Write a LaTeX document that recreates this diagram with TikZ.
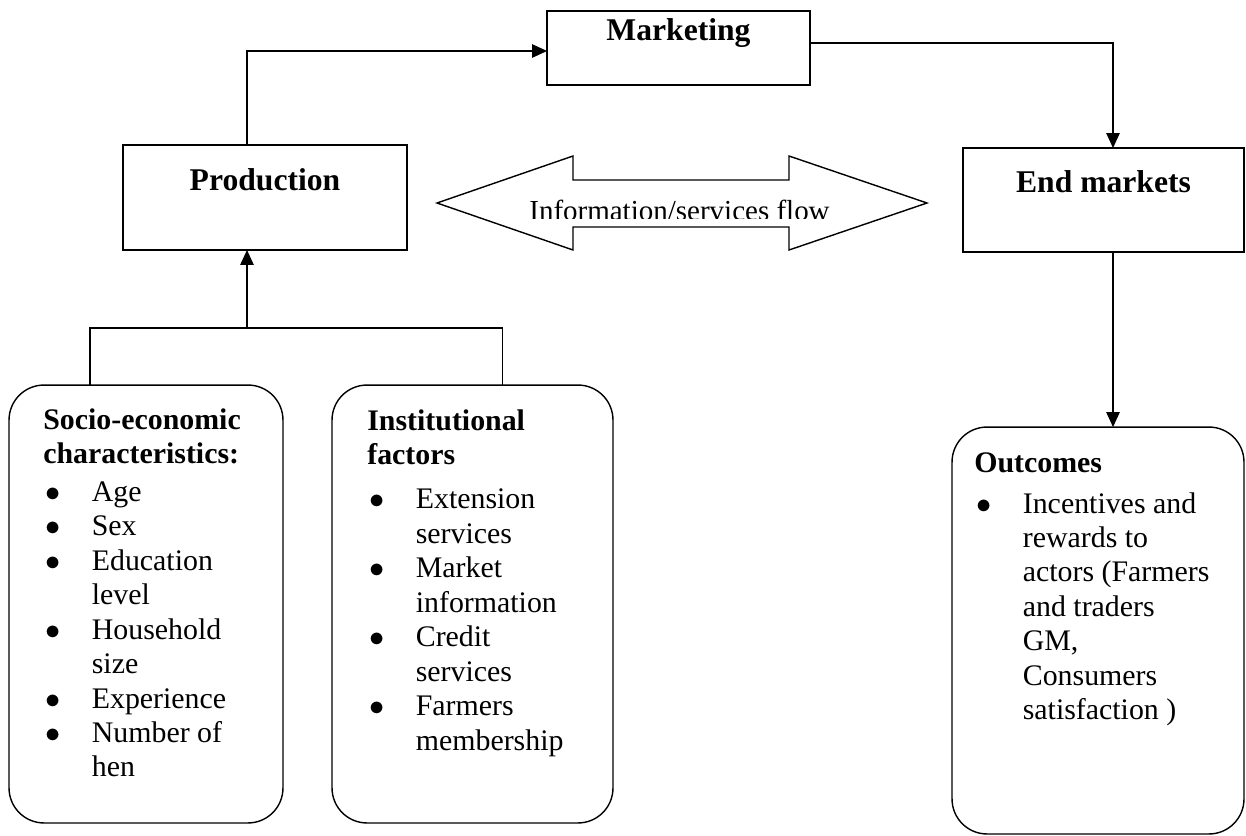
\documentclass[tikz,border=0pt]{standalone}
\usepackage{fontspec}
\setmainfont{Liberation Serif}
\usetikzlibrary{positioning,arrows.meta}

\newcommand{\bitem}{\makebox[0.97cm][l]{\hspace{0.05cm}$\bullet$}}
\newcommand{\bcont}{\hspace*{0.97cm}}

\begin{document}
\begin{tikzpicture}[x=0.02cm, y=-0.02cm,
  every node/.style={font=\fontsize{17}{19.6}\selectfont},
  chainbox/.style={draw, line width=0.8pt, outer sep=0pt, inner sep=0pt, align=center, font=\fontsize{18}{21}\selectfont\bfseries},
  factorbox/.style={draw, line width=0.8pt, rounded corners=0.7cm, outer sep=0pt, inner sep=0pt},
  listtext/.style={anchor=north west, inner sep=0pt, align=left},
  link/.style={line width=0.7pt},
  flowarrow/.style={link, -{Triangle[length=0.3cm, width=0.27cm]}}]
  \useasboundingbox (0,0) rectangle (1246,835);

  % value chain stages
  \node[chainbox, minimum width=5.26cm, minimum height=1.48cm] (mkt) at (678.5,48) {Marketing\\\mbox{}};
  \node[chainbox, minimum width=5.68cm, minimum height=2.1cm] (prod) at (265,197.5) {Production\\\mbox{}};
  \node[chainbox, minimum width=5.62cm, minimum height=2.08cm] (endm) at (1103.5,200) {End markets\\\mbox{}};

  % factors and outcomes
  \node[factorbox, minimum width=5.48cm, minimum height=8.76cm] (socio) at (146,604) {};
  \node[factorbox, minimum width=5.62cm, minimum height=8.76cm] (inst) at (472.5,604) {};
  \node[factorbox, minimum width=5.84cm, minimum height=8.14cm] (outc) at (1098,630.5) {};

  \node[listtext] (sociotxt) at (43,408) {\textbf{Socio-economic}\\\textbf{characteristics:}\\[0.07cm]
    \bitem Age\\ \bitem Sex\\ \bitem Education\\ \bcont level\\ \bitem Household\\ \bcont size\\
    \bitem Experience\\ \bitem Number of\\ \bcont hen};
  \node[listtext] (insttxt) at (367,409) {\textbf{Institutional}\\\textbf{factors}\\[0.2cm]
    \bitem Extension\\ \bcont services\\ \bitem Market\\ \bcont information\\ \bitem Credit\\ \bcont services\\
    \bitem Farmers\\ \bcont membership};
  \node[listtext] (outctxt) at (974,452) {\textbf{Outcomes}\\[0.13cm]
    \bitem Incentives and\\ \bcont rewards to\\ \bcont actors (Farmers\\ \bcont and traders\\ \bcont GM,\\
    \bcont Consumers\\ \bcont satisfaction )};

  % information flow
  \draw[line width=0.8pt] (437,203) -- (573,156) -- (573,180) -- (789,180) -- (789,156) -- (927,203)
    -- (789,250) -- (789,227) -- (573,227) -- (573,250) -- cycle;
  \begin{scope}
    \clip (500,182) rectangle (860,218);
    \node[anchor=base, inner sep=0pt, font=\fontsize{16.5}{19}\selectfont] (flow) at (679.5,220) {Information/services flow};
  \end{scope}

  % connectors
  \coordinate (join) at (247,328);
  \draw[link] ([xshift=-1.12cm]socio.north) |- (join) -| ([xshift=0.6cm]inst.north);
  \draw[flowarrow] (join) -- (join |- prod.south);
  \draw[flowarrow] (join |- prod.north) |- ([yshift=-0.06cm]mkt.west);
  \draw[flowarrow] ([yshift=0.1cm]mkt.east) -| ([xshift=0.19cm]endm.north);
  \draw[flowarrow] ([xshift=0.19cm]endm.south) -- ([xshift=0.19cm]endm.south |- outc.north);
\end{tikzpicture}
\end{document}
